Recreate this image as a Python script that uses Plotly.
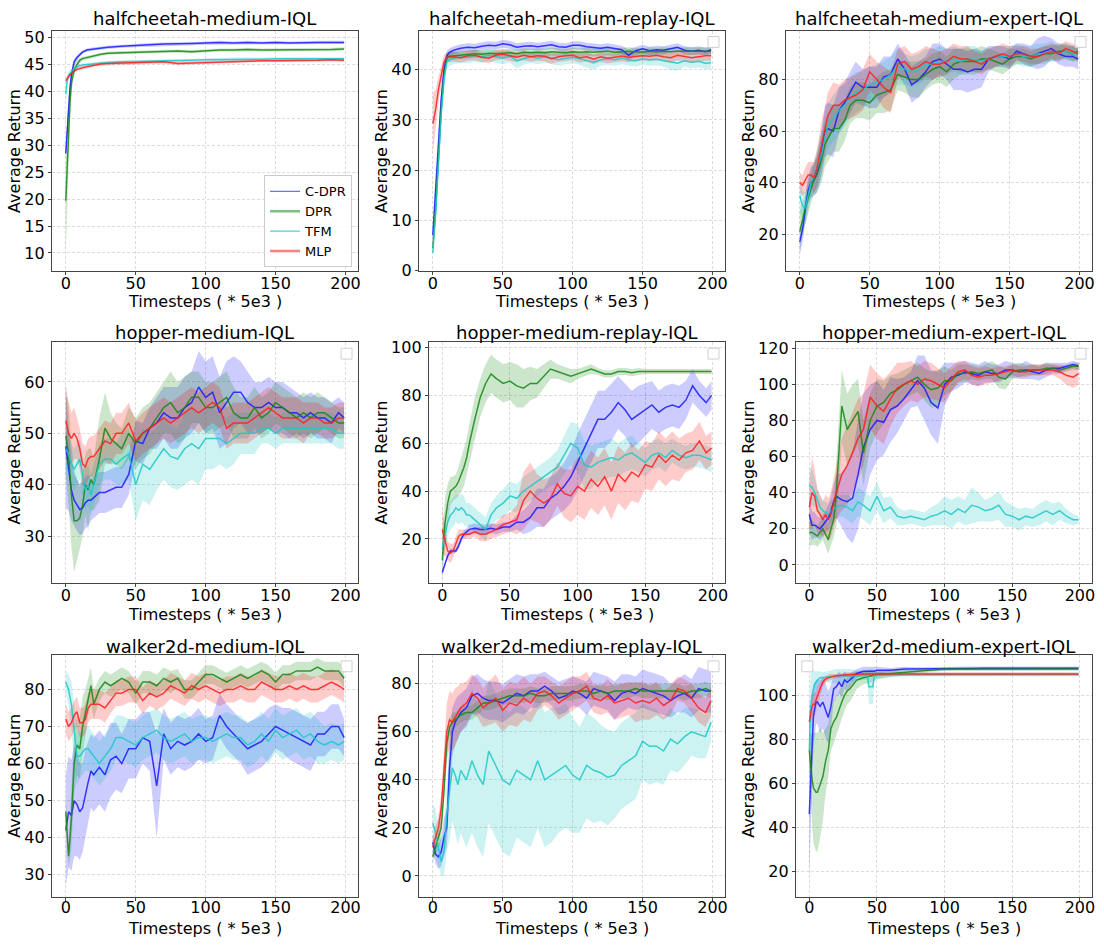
import plotly.graph_objects as go

# ---------------- data ----------------
SERIES = ["C-DPR", "DPR", "TFM", "MLP"]
X_TICKS = [0, 50, 100, 150, 200]

# common step grid for the noisy panels
G = [0, 2, 4, 6, 8, 10, 12, 14, 16, 18, 20,
     24, 28, 32, 36, 40,
     45, 50, 55, 60, 65, 70, 75, 80, 85, 90,
     95, 100, 105, 110, 115, 120, 125, 130, 135, 140,
     145, 150, 155, 160, 165, 170, 175, 180, 185, 190,
     195, 199]

# ---- halfcheetah-medium-IQL ----
HCM_X = [0, 1, 2, 3, 4, 5, 6, 8, 10, 12,
         15, 20, 25, 30, 40, 50, 60, 70, 80, 90,
         100, 110, 120, 130, 140, 150, 160, 170, 180, 190,
         199]
HCM_CDPR = [28.5, 33, 37, 40.5, 43, 44.5, 45.5, 46.3, 46.9, 47.3,
            47.7, 47.9, 48.1, 48.2, 48.4, 48.6, 48.7, 48.8, 48.8, 48.9,
            49.0, 49.1, 49.0, 49.1, 49.0, 49.1, 49.0, 49.1, 49.1, 49.1,
            49.1]
HCM_CDPR_W = [1, 1.5, 1.5, 1.2, 1, 0.8, 0.6, 0.5, 0.4, 0.3,
              0.3, 0.3, 0.3, 0.3, 0.3, 0.3, 0.3, 0.3, 0.3, 0.3,
              0.3, 0.3, 0.3, 0.3, 0.3, 0.3, 0.3, 0.3, 0.3, 0.3,
              0.3]
HCM_DPR = [19.7, 27, 33, 38, 41.5, 43, 44, 45, 45.8, 46.1,
           46.3, 46.6, 46.9, 47.1, 47.2, 47.3, 47.4, 47.5, 47.5, 47.4,
           47.6, 47.7, 47.7, 47.8, 47.7, 47.7, 47.8, 47.8, 47.8, 47.8,
           47.9]
HCM_DPR_W = [10, 8, 6, 4, 2.5, 1.5, 1, 0.7, 0.5, 0.4,
             0.3, 0.3, 0.3, 0.3, 0.3, 0.3, 0.3, 0.3, 0.3, 0.3,
             0.3, 0.3, 0.3, 0.3, 0.3, 0.3, 0.3, 0.3, 0.3, 0.3,
             0.3]
HCM_TFM = [39.5, 42, 43, 43.4, 43.8, 44, 44.3, 44.6, 44.8, 44.9,
           45.0, 45.2, 45.3, 45.4, 45.5, 45.5, 45.6, 45.7, 45.7, 45.8,
           45.9, 45.9, 46.0, 46.0, 46.0, 46.1, 46.1, 46.1, 46.1, 46.1,
           46.1]
HCM_TFM_W = [1.5, 1, 0.8, 0.6, 0.5, 0.4, 0.3, 0.3, 0.3, 0.3,
             0.3, 0.3, 0.3, 0.3, 0.3, 0.3, 0.3, 0.3, 0.3, 0.3,
             0.3, 0.3, 0.3, 0.3, 0.3, 0.3, 0.3, 0.3, 0.3, 0.3,
             0.3]
HCM_MLP = [42, 42.4, 42.8, 43.1, 43.3, 43.6, 43.8, 44.1, 44.3, 44.4,
           44.6, 44.9, 45.1, 45.2, 45.3, 45.3, 45.4, 45.5, 45.2, 45.3,
           45.4, 45.5, 45.6, 45.7, 45.7, 45.7, 45.7, 45.8, 45.8, 45.9,
           45.8]
HCM_MLP_W = [0.5, 0.4, 0.4, 0.3, 0.3, 0.3, 0.3, 0.3, 0.3, 0.3,
             0.3, 0.3, 0.3, 0.3, 0.3, 0.3, 0.3, 0.3, 0.3, 0.3,
             0.3, 0.3, 0.3, 0.3, 0.3, 0.3, 0.3, 0.3, 0.3, 0.3,
             0.3]

# ---- halfcheetah-medium-replay-IQL ----
HCMR_X = [0, 2, 4, 6, 8, 10, 12, 15, 20, 25,
          30, 35, 40, 45, 50, 55, 60, 65, 70, 75,
          80, 85, 90, 95, 100, 105, 110, 115, 120, 125,
          130, 135, 140, 145, 150, 155, 160, 165, 170, 175,
          180, 185, 190, 195, 199]
HCMR_CDPR = [7, 15, 25, 34, 40, 42.8, 43.5, 43.9, 44.3, 44.5,
             44.4, 44.7, 44.9, 44.8, 45.2, 45.0, 44.5, 44.7, 44.8, 44.6,
             44.8, 45.0, 44.6, 44.5, 44.9, 44.9, 44.6, 44.4, 44.3, 44.5,
             44.2, 44.0, 42.9, 43.8, 44.2, 43.8, 44.0, 43.9, 44.2, 44.5,
             43.9, 43.7, 43.9, 43.6, 44.0]
HCMR_CDPR_W = [1, 1.5, 2, 2, 1.5, 1, 0.8, 0.8, 0.8, 0.8,
               0.8, 0.8, 0.8, 0.8, 0.8, 0.8, 0.8, 0.8, 0.8, 0.8,
               0.8, 0.8, 0.8, 0.8, 0.8, 0.8, 0.8, 0.8, 0.8, 0.8,
               0.8, 0.8, 1.2, 0.8, 0.8, 0.8, 0.8, 0.8, 0.8, 0.8,
               0.8, 0.8, 0.8, 0.8, 0.8]
HCMR_DPR = [4.5, 12, 22, 32, 39, 42.3, 42.7, 42.8, 43.0, 43.1,
            43.2, 43.1, 43.3, 43.2, 43.3, 43.4, 43.2, 43.5, 43.4, 43.5,
            43.4, 43.6, 43.5, 43.4, 43.6, 43.5, 43.6, 43.5, 43.6, 43.7,
            43.5, 43.6, 43.7, 43.6, 43.5, 43.7, 43.6, 43.7, 43.6, 43.7,
            43.7, 43.6, 43.7, 43.7, 43.7]
HCMR_DPR_W = [1, 1.5, 2, 2, 1.5, 1, 0.8, 0.8, 0.8, 0.8,
              0.8, 0.8, 0.8, 0.8, 0.8, 0.8, 0.8, 0.8, 0.8, 0.8,
              0.8, 0.8, 0.8, 0.8, 0.8, 0.8, 0.8, 0.8, 0.8, 0.8,
              0.8, 0.8, 0.8, 0.8, 0.8, 0.8, 0.8, 0.8, 0.8, 0.8,
              0.8, 0.8, 0.8, 0.8, 0.8]
HCMR_TFM = [3.5, 11, 21, 31, 38, 41.5, 42, 42.3, 42.6, 42.5,
            42.8, 42.6, 42.9, 42.6, 42.3, 42.7, 41.8, 42.2, 42.6, 42.3,
            42.6, 42.3, 42.0, 42.3, 42.5, 42.2, 41.9, 41.5, 42.0, 42.2,
            42.0, 42.3, 42.0, 41.8, 42.2, 42.0, 42.1, 41.8, 41.5, 41.3,
            41.8, 41.5, 41.7, 41.3, 41.4]
HCMR_TFM_W = [1.5, 2, 2, 2, 2, 1.5, 1.2, 1.2, 1.2, 1.2,
              1.2, 1.2, 1.2, 1.2, 1.2, 1.2, 1.5, 1.2, 1.2, 1.2,
              1.2, 1.2, 1.2, 1.2, 1.2, 1.2, 1.5, 1.5, 1.2, 1.2,
              1.2, 1.2, 1.2, 1.2, 1.2, 1.2, 1.2, 1.2, 1.5, 1.5,
              1.2, 1.2, 1.2, 1.2, 1.2]
HCMR_MLP = [29.3, 32, 36, 39, 41.5, 42.5, 42.6, 42.6, 42.4, 42.8,
            42.9, 42.5, 42.3, 42.9, 43.1, 42.8, 42.5, 42.9, 42.6, 42.8,
            42.7, 42.2, 42.6, 42.8, 42.9, 42.4, 42.6, 42.1, 42.6, 42.3,
            42.5, 42.7, 42.5, 42.7, 42.8, 42.7, 42.9, 42.6, 42.4, 42.9,
            42.7, 42.4, 42.6, 42.8, 42.8]
HCMR_MLP_W = [6, 4, 2.5, 2, 1.5, 1, 1, 1, 1, 1,
              1, 1, 1, 1, 1, 1, 1, 1, 1, 1,
              1, 1, 1, 1, 1, 1, 1, 1, 1, 1,
              1, 1, 1, 1, 1, 1, 1, 1, 1, 1,
              1, 1, 1, 1, 1]

# ---- halfcheetah-medium-expert-IQL (grid G) ----
HCME_CDPR = [17, 22, 30, 37, 40, 41, 43, 47, 53, 60, 61,
             60, 68, 71, 75, 79,
             77, 77, 77, 81, 82, 88, 84, 78, 80, 83,
             87, 88, 86, 84, 84, 83, 84, 84, 88, 89,
             89, 88, 91, 90, 89, 90, 91, 92, 90, 89,
             89, 88]
HCME_CDPR_W = [5, 5, 5, 5, 6, 6, 7, 8, 9, 10, 10,
               10, 9, 8, 8, 8,
               7, 8, 8, 8, 7, 6, 6, 7, 7, 6,
               7, 6, 6, 8, 8, 8, 8, 7, 5, 4,
               4, 4, 3, 4, 4, 6, 6, 4, 4, 4,
               4, 4]
HCME_DPR = [21, 26, 30, 34, 38, 41, 43, 46, 50, 55, 57,
            61, 61, 64, 70, 72,
            72, 71, 74, 75, 76, 82, 81, 80, 80, 82,
            84, 85, 83, 86, 87, 87, 87, 88, 88, 87,
            86, 88, 89, 89, 88, 89, 90, 90, 91, 91,
            90, 91]
HCME_DPR_W = [8, 6, 6, 6, 6, 6, 7, 8, 9, 9, 9,
              9, 9, 8, 7, 7,
              7, 7, 7, 8, 8, 6, 6, 7, 7, 6,
              6, 6, 6, 6, 5, 5, 5, 5, 4, 4,
              4, 4, 3, 3, 3, 3, 3, 3, 3, 3,
              3, 3]
HCME_TFM = [35, 31, 30, 35, 40, 42, 45, 48, 52, 58, 62,
            65, 68, 70, 73, 75,
            76, 78, 79, 80, 82, 85, 84, 83, 84, 86,
            86, 87, 87, 88, 87, 88, 88, 87, 88, 89,
            89, 89, 90, 89, 89, 90, 90, 91, 90, 91,
            90, 90]
HCME_TFM_W = [6, 6, 6, 6, 6, 6, 7, 8, 9, 9, 9,
              9, 9, 8, 8, 8,
              7, 7, 7, 7, 7, 7, 6, 6, 6, 6,
              6, 6, 5, 5, 5, 5, 5, 4, 4, 4,
              4, 4, 4, 4, 4, 4, 4, 4, 3, 3,
              3, 3]
HCME_MLP = [40, 39, 41, 43, 43, 42, 45, 50, 56, 60, 66,
            70, 70, 72, 73, 74,
            76, 83, 80, 77, 75, 86, 87, 84, 85, 87,
            86, 86, 87, 89, 88, 88, 87, 86, 88, 89,
            90, 89, 90, 90, 89, 89, 90, 91, 90, 92,
            91, 90]
HCME_MLP_W = [4, 4, 5, 5, 5, 6, 7, 8, 9, 9, 9,
              9, 8, 8, 8, 8,
              8, 7, 7, 8, 8, 6, 6, 6, 6, 6,
              6, 5, 5, 5, 5, 5, 4, 4, 4, 4,
              4, 4, 3, 3, 3, 3, 3, 3, 3, 3,
              3, 3]

# ---- hopper-medium-IQL (grid G) ----
HM_CDPR = [47.5, 43, 39, 37, 36, 35.2, 35.5, 36.5, 37, 37, 37.5,
           38.5, 38.5, 39, 39.5, 39.5,
           42, 48.5, 48, 51, 52, 54, 53, 53, 55, 56,
           59, 57, 58, 54, 56, 58, 58, 56, 55, 55,
           56, 55, 55, 54, 54, 53, 54, 53, 53, 52,
           54, 53]
HM_CDPR_W = [12, 8, 6, 5, 5, 5, 5, 5, 5, 4, 4,
             4, 4, 4, 4, 4,
             4, 4, 4, 4, 5, 5, 6, 6, 6, 6,
             7, 7, 7, 7, 8, 7, 6, 6, 5, 5,
             5, 5, 5, 5, 4, 4, 4, 4, 4, 4,
             3, 3]
HM_DPR = [49.5, 46, 38, 33, 33, 33.5, 36, 40, 39, 41, 40,
          45, 51, 49, 48, 47,
          50, 48, 50, 51, 53, 55, 56, 54, 55, 57,
          57, 55, 55, 56, 57, 54, 53, 53, 55, 53,
          54, 56, 55, 54, 53, 54, 53, 54, 54, 53,
          52, 52]
HM_DPR_W = [8, 10, 10, 10, 8, 6, 6, 6, 8, 6, 5,
            8, 7, 5, 4, 4,
            5, 5, 5, 5, 5, 5, 6, 6, 6, 5,
            5, 5, 5, 5, 5, 5, 4, 4, 4, 4,
            4, 4, 4, 4, 4, 4, 4, 4, 3, 3,
            3, 3]
HM_TFM = [47, 46, 44, 43, 44, 45, 42, 39, 40, 38, 40,
          44, 45, 45, 44, 45,
          46, 40, 44, 43, 45, 47, 45.5, 45, 47, 48,
          47, 49, 49, 49, 48, 49, 50, 50, 50, 51,
          51, 50, 51, 51, 51, 51, 51, 51, 51, 51,
          50, 50]
HM_TFM_W = [4, 4, 4, 4, 4, 4, 4, 4, 4, 4, 4,
            4, 4, 4, 4, 5,
            5, 7, 7, 7, 6, 6, 6, 6, 7, 7,
            7, 6, 6, 5, 5, 5, 4, 4, 4, 3,
            3, 3, 3, 3, 3, 3, 3, 3, 3, 3,
            3, 3]
HM_MLP = [52.5, 50, 49, 50, 49, 47, 44, 43.5, 45, 45.5, 45.5,
          47, 48.5, 48, 50, 50,
          52, 48.5, 50, 51, 52, 53, 52, 53, 54, 55,
          54, 55, 56, 55, 51, 52, 52, 52, 53, 54,
          55, 54, 53, 53, 53, 52, 53, 53, 52, 52,
          53, 53]
HM_MLP_W = [7, 6, 5, 5, 4, 4, 4, 4, 4, 4, 4,
            4, 4, 4, 4, 4,
            4, 4, 4, 4, 4, 4, 4, 4, 4, 4,
            4, 4, 4, 4, 4, 4, 4, 4, 4, 4,
            4, 4, 4, 4, 4, 4, 3, 3, 3, 3,
            3, 3]

# ---- hopper-medium-replay-IQL (grid G) ----
HMR_CDPR = [6, 10, 13, 15, 15, 15, 17, 20, 22, 23, 24,
            24.5, 24, 24, 24.5, 24,
            25, 25, 27, 27, 29, 33, 33, 37, 39, 42,
            46, 52, 58, 64, 70, 70, 73, 77, 74, 70,
            72, 74, 76, 73, 75, 76, 75, 78, 84, 80,
            77, 80]
HMR_CDPR_W = [1, 1, 1, 1, 1, 1, 1.5, 1.5, 1.5, 1.5, 2,
              2, 2, 2, 2, 2,
              2, 2, 3, 5, 6, 8, 8, 9, 9, 10,
              11, 12, 12, 12, 12, 12, 12, 11, 11, 12,
              12, 11, 10, 9, 9, 9, 9, 8, 7, 6,
              6, 6]
HMR_DPR = [11, 27, 35, 40, 41, 42, 44, 47, 50, 54, 60,
           70, 79, 85, 89, 87,
           85, 86, 84, 83, 85, 85, 88, 91, 90, 89,
           88, 89, 90, 91, 90, 89, 89, 90, 90, 89.5,
           90, 90, 90, 90, 90, 90, 90, 90, 90, 90,
           90, 90]
HMR_DPR_W = [10, 10, 8, 6, 5, 5, 6, 7, 8, 8, 8,
             9, 8, 8, 8, 8,
             8, 8, 9, 8, 7, 6, 5, 4, 3, 3,
             3, 2, 2, 2, 1.5, 1.5, 1.5, 1.5, 1.5, 1.5,
             1.5, 1, 1, 1, 1, 1, 1, 1, 1, 1,
             1, 1]
HMR_TFM = [16, 22, 27, 30, 31, 33, 32, 33, 32, 30, 30,
           28, 26, 24, 30, 33,
           35, 38, 37, 40, 42, 44, 46, 48, 50, 55,
           60, 58, 51, 50, 52, 53, 54, 53, 55, 56,
           54, 52, 55, 56, 54, 57, 55, 54, 55, 55,
           54, 53]
HMR_TFM_W = [6, 6, 6, 6, 6, 6, 6, 6, 6, 5, 5,
             5, 5, 5, 5, 5,
             6, 6, 6, 6, 6, 6, 6, 6, 7, 8,
             9, 10, 10, 9, 8, 8, 8, 7, 7, 7,
             6, 6, 6, 6, 6, 5, 5, 5, 5, 5,
             5, 5]
HMR_MLP = [24, 19, 15, 14, 15, 18, 21, 22, 22, 22, 22,
           23, 22, 22, 23, 24,
           26, 27, 28, 36, 40, 37, 35, 37, 43, 39,
           38, 42, 40, 45, 42, 46, 40, 47, 44, 48,
           46, 51, 50, 55, 52, 55, 53, 56, 57, 61,
           56, 58]
HMR_MLP_W = [10, 6, 4, 4, 3, 3, 3, 2, 2, 2, 2,
             2, 3, 3, 3, 3,
             4, 4, 6, 12, 12, 10, 10, 9, 9, 10,
             11, 12, 12, 12, 12, 12, 12, 12, 12, 12,
             11, 10, 10, 10, 10, 10, 9, 8, 8, 8,
             7, 7]

# ---- hopper-medium-expert-IQL (grid G) ----
HME_CDPR = [28, 22, 22, 21, 20, 22, 24, 26, 30, 35, 38,
            36, 35, 37, 50, 65,
            75, 80, 79, 86, 88, 92, 97, 102, 98, 90,
            87, 100, 104, 105, 107, 106, 105, 107, 106, 106,
            108, 108, 107, 108, 107, 106, 108, 109, 109, 110,
            111, 110]
HME_CDPR_W = [10, 8, 7, 6, 6, 6, 6, 7, 8, 10, 12,
              15, 20, 25, 30, 30,
              25, 22, 18, 18, 15, 12, 10, 14, 18, 18,
              20, 12, 8, 7, 6, 6, 6, 6, 5, 5,
              5, 4, 4, 5, 4, 4, 4, 3, 3, 2,
              2, 2]
HME_DPR = [18, 18, 17, 16, 18, 20, 17, 14, 20, 25, 40,
           88, 75, 80, 85, 62,
           80, 88, 90, 95, 97, 100, 102, 104, 100, 97,
           98, 102, 102, 106, 106, 107, 106, 107, 108, 104,
           103, 107, 108, 108, 108, 108, 109, 109, 108, 109,
           110, 110]
HME_DPR_W = [8, 7, 6, 6, 6, 6, 7, 8, 9, 10, 18,
             20, 20, 20, 18, 18,
             15, 15, 12, 10, 9, 8, 8, 8, 9, 10,
             10, 8, 6, 5, 5, 4, 4, 4, 5, 6,
             6, 4, 4, 3, 3, 3, 3, 2, 2, 2,
             2, 2]
HME_TFM = [44, 43, 40, 36, 32, 30, 29, 28, 30, 31, 32,
           33, 32, 30, 35, 33,
           30, 38, 30, 32, 27, 26, 27, 26, 25, 27,
           28, 30, 28, 31, 29, 33, 32, 30, 31, 33,
           28, 27, 25, 27, 26, 28, 30, 28, 30, 27,
           25, 25]
HME_TFM_W = [10, 10, 8, 6, 6, 6, 6, 6, 6, 6, 6,
             6, 7, 7, 8, 8,
             8, 8, 7, 6, 5, 4, 4, 4, 4, 5,
             6, 8, 8, 7, 7, 10, 8, 6, 7, 8,
             7, 6, 6, 5, 5, 6, 6, 6, 5, 4,
             3, 2]
HME_MLP = [32, 40, 38, 30, 28, 25, 28, 25, 28, 35, 40,
           50, 55, 62, 70, 75,
           93, 88, 85, 92, 98, 100, 102, 100, 103, 102,
           100, 98, 103, 107, 108, 105, 104, 105, 105, 106,
           107, 108, 107, 107, 108, 108, 108, 108, 107, 105,
           104, 106]
HME_MLP_W = [12, 20, 15, 12, 11, 10, 11, 12, 13, 14, 15,
             20, 22, 22, 22, 20,
             18, 18, 18, 15, 14, 12, 11, 10, 10, 10,
             9, 8, 7, 6, 5, 5, 5, 5, 4, 4,
             3, 3, 3, 3, 3, 3, 3, 3, 4, 5,
             6, 6]

# ---- walker2d-medium-IQL (grid G) ----
WM_CDPR = [42, 47, 46, 50, 49, 47, 48, 52, 55, 58, 57,
           59, 57, 61, 62, 60,
           64, 64, 67, 66, 54, 68, 64, 66, 65, 66,
           68, 66, 67, 73, 70, 68, 66, 64, 65, 66,
           68, 70, 69, 68, 67, 66, 65, 68, 68, 70,
           70, 67]
WM_CDPR_W = [15, 15, 15, 15, 14, 13, 12, 12, 11, 10, 10,
             10, 10, 10, 9, 8,
             8, 8, 7, 8, 14, 7, 7, 7, 7, 7,
             7, 6, 6, 6, 6, 6, 6, 7, 7, 7,
             7, 6, 6, 7, 7, 7, 7, 6, 6, 6,
             6, 5]
WM_DPR = [47, 35, 45, 60, 65, 64, 70, 74, 78, 81, 76,
          80, 82, 81, 82, 83,
          82, 79, 82, 82, 81, 83, 82, 83, 80, 80,
          82, 84, 84, 83, 82, 83, 84, 83, 84, 85,
          84, 82, 84, 84, 85, 85, 85, 86, 85, 85,
          85, 83]
WM_DPR_W = [4, 3, 8, 8, 8, 8, 8, 6, 5, 5, 4,
            3, 3, 3, 3, 3,
            3, 3, 3, 3, 3, 3, 3, 2.5, 2.5, 2.5,
            2.5, 2.5, 2.5, 2.5, 2.5, 2.5, 2.5, 2.5, 2.5, 2.5,
            2.5, 2.5, 2.5, 2.5, 2.5, 2.5, 2.5, 2.5, 2.5, 2.5,
            2.5, 2.5]
WM_TFM = [82, 80, 76, 68, 62, 62, 63, 64, 64, 63, 62,
          60, 62, 64, 67, 67,
          66, 65, 67, 68, 69, 67, 66, 67, 68, 66,
          67, 67, 66, 67, 68, 67, 67, 65, 66, 68,
          66, 69, 67, 68, 69, 67, 68, 66, 65, 66,
          65, 66]
WM_TFM_W = [3, 4, 6, 8, 8, 6, 6, 6, 6, 6, 6,
            6, 6, 6, 6, 6,
            6, 6, 6, 6, 6, 6, 6, 6, 6, 6,
            6, 6, 6, 6, 6, 6, 6, 6, 6, 6,
            6, 6, 6, 6, 6, 6, 6, 6, 5, 5,
            5, 5]
WM_MLP = [72, 70, 71, 73, 74, 71, 71, 72, 75, 76, 76,
          76, 75, 77, 79, 79,
          80, 80, 77, 79, 78, 79, 81, 80, 79, 81,
          80, 81, 80, 79, 80, 80, 81, 80, 80, 82,
          81, 80, 80, 81, 80, 81, 80, 80, 81, 82,
          81, 80]
WM_MLP_W = [4, 4, 4, 4, 4, 4, 4, 4, 4, 4, 4,
            4, 4, 3.5, 3.5, 3.5,
            3.5, 3.5, 3.5, 3.5, 3.5, 3.5, 3.5, 3.5, 3.5, 3.5,
            3.5, 3.5, 3.5, 3.5, 3.5, 3.5, 3.5, 3.5, 3.5, 3.5,
            3.5, 3.5, 3.5, 3.5, 3.5, 3.5, 3.5, 3.5, 3.5, 3.5,
            3.5, 3.5]

# ---- walker2d-medium-replay-IQL (grid G) ----
WMR_CDPR = [14, 9, 8, 10, 16, 20, 45, 60, 64, 66, 68,
            70, 75, 76, 74, 73,
            73, 72, 74, 76, 75, 77, 77, 79, 77, 74,
            75, 77, 76, 74, 78, 77, 76, 73, 76, 77,
            76, 78, 77, 76, 75, 73, 75, 76, 74, 78,
            77, 77]
WMR_CDPR_W = [3, 4, 5, 6, 8, 8, 12, 10, 9, 9, 8,
              8, 8, 8, 8, 8,
              8, 8, 8, 8, 8, 7, 7, 6, 6, 7,
              7, 6, 6, 7, 7, 7, 7, 8, 8, 7,
              7, 8, 8, 8, 8, 7, 7, 8, 8, 9,
              9, 9]
WMR_DPR = [8, 12, 15, 20, 35, 55, 62, 64, 65, 66, 67,
           68, 68, 70, 72, 72,
           73, 74, 75, 75, 75, 76, 75, 75, 76, 76,
           76, 76, 77, 77, 76, 77, 76, 77, 77, 77,
           78, 77, 77, 77, 77, 77, 77, 76, 77, 77,
           78, 77]
WMR_DPR_W = [3, 3, 4, 5, 5, 5, 4, 4, 3, 3, 3,
             3, 3, 3, 3, 3,
             3, 3, 3, 3, 3, 3, 3, 3, 3, 3,
             3, 3, 3, 3, 3, 3, 3, 3, 3, 3,
             3, 3, 3, 3, 3, 3, 3, 3, 3, 3,
             3, 3]
WMR_TFM = [22, 18, 12, 6, 10, 25, 35, 45, 42, 38, 44,
           40, 48, 42, 38, 52,
           46, 40, 38, 44, 42, 40, 48, 40, 42, 44,
           46, 42, 40, 46, 44, 43, 41, 42, 46, 48,
           50, 56, 54, 54, 52, 57, 55, 58, 60, 59,
           58, 64]
WMR_TFM_W = [8, 10, 8, 6, 10, 15, 20, 22, 24, 25, 26,
             28, 30, 30, 30, 30,
             30, 30, 30, 28, 28, 28, 28, 28, 28, 26,
             26, 24, 22, 22, 22, 20, 20, 18, 18, 18,
             18, 16, 16, 15, 14, 13, 12, 12, 10, 10,
             9, 8]
WMR_MLP = [12, 16, 20, 28, 45, 60, 65, 64, 66, 68, 70,
           72, 76, 74, 70, 72,
           74, 69, 72, 71, 74, 72, 76, 77, 75, 72,
           74, 76, 77, 79, 74, 73, 75, 72, 73, 74,
           72, 73, 72, 74, 71, 73, 78, 77, 74, 70,
           68, 73]
WMR_MLP_W = [4, 4, 5, 6, 10, 12, 12, 12, 12, 11, 10,
             9, 8, 8, 8, 9,
             10, 9, 9, 9, 9, 8, 7, 6, 6, 7,
             7, 7, 6, 6, 6, 6, 7, 7, 7, 7,
             8, 8, 7, 7, 6, 6, 5, 5, 6, 6,
             6, 6]

# ---- walker2d-medium-expert-IQL ----
WME_X = [0, 1, 2, 3, 4, 5, 6, 8, 10, 12,
         14, 16, 18, 20, 22, 24, 26, 28, 30, 35,
         40, 43, 44, 47, 48, 50, 60, 70, 80, 90,
         100, 110, 120, 130, 140, 150, 160, 170, 180, 190,
         199]
WME_CDPR = [46, 60, 80, 90, 94, 97, 97, 95, 97, 93,
            90, 95, 103, 104, 106, 104, 107, 106, 107, 110,
            111, 111, 111, 111, 111, 111.5, 111.5, 112, 112, 112,
            112, 112.2, 112.3, 112.4, 112.4, 112.4, 112.4, 112.4, 112.4, 112.4,
            112.4]
WME_CDPR_W = [30, 25, 20, 15, 12, 10, 10, 12, 12, 12,
              12, 10, 6, 5, 5, 5, 4, 4, 3, 2,
              2, 2, 2, 2, 2, 1.5, 1, 1, 0.8, 0.8,
              0.8, 0.8, 0.8, 0.8, 0.8, 0.8, 0.8, 0.8, 0.8, 0.8,
              0.8]
WME_DPR = [75, 68, 62, 58, 57, 56, 56, 60, 63, 70,
           75, 85, 88, 90, 94, 97, 100, 102, 103, 107,
           108, 108.5, 108.5, 109, 109, 109.5, 110, 110.5, 111, 111.5,
           112, 112, 112, 112, 112, 112, 112, 112, 112, 112,
           112]
WME_DPR_W = [8, 15, 20, 25, 26, 27, 27, 25, 20, 15,
             12, 10, 10, 9, 8, 8, 7, 6, 6, 4,
             3, 3, 3, 2.5, 2.5, 2, 1.5, 1, 0.8, 0.8,
             0.8, 0.8, 0.8, 0.8, 0.8, 0.8, 0.8, 0.8, 0.8, 0.8,
             0.8]
WME_TFM = [75, 95, 100, 103, 105, 106, 107, 108, 108, 108.3,
           108.5, 108.5, 108.7, 109, 109, 109, 109, 109, 109, 109,
           109, 109, 104, 104, 109, 109, 109.3, 109.4, 109.5, 109.5,
           109.5, 109.5, 109.5, 109.5, 109.5, 109.5, 109.5, 109.5, 109.5, 109.5,
           109.5]
WME_TFM_W = [20, 15, 12, 9, 6, 5, 4, 3, 2.5, 2.5,
             2.5, 3, 3, 3, 3, 3, 3, 3, 3, 2.5,
             2, 2, 8, 8, 2, 1.5, 1, 0.8, 0.8, 0.8,
             0.8, 0.8, 0.8, 0.8, 0.8, 0.8, 0.8, 0.8, 0.8, 0.8,
             0.8]
WME_MLP = [88, 92, 95, 96, 96, 98, 100, 103, 106, 107.5,
           108, 108.5, 108.7, 109, 109, 109.2, 109.3, 109.4, 109.5, 109.6,
           109.7, 109.7, 109.7, 109.7, 109.7, 109.7, 109.7, 109.7, 109.7, 109.7,
           109.7, 109.7, 109.7, 109.7, 109.7, 109.7, 109.7, 109.7, 109.7, 109.7,
           109.7]
WME_MLP_W = [4, 5, 5, 5, 5, 4, 4, 3, 2, 1.5,
             1.5, 1.5, 1, 1, 1, 1, 1, 1, 1, 0.8,
             0.8, 0.8, 0.8, 0.8, 0.8, 0.8, 0.8, 0.8, 0.8, 0.8,
             0.8, 0.8, 0.8, 0.8, 0.8, 0.8, 0.8, 0.8, 0.8, 0.8,
             0.8]

TITLES = ["halfcheetah-medium-IQL", "halfcheetah-medium-replay-IQL", "halfcheetah-medium-expert-IQL",
          "hopper-medium-IQL", "hopper-medium-replay-IQL", "hopper-medium-expert-IQL",
          "walker2d-medium-IQL", "walker2d-medium-replay-IQL", "walker2d-medium-expert-IQL"]
Y_TICKS = [[10, 15, 20, 25, 30, 35, 40, 45, 50], [0, 10, 20, 30, 40], [20, 40, 60, 80],
           [30, 40, 50, 60], [20, 40, 60, 80, 100], [0, 20, 40, 60, 80, 100, 120],
           [30, 40, 50, 60, 70, 80], [0, 20, 40, 60, 80], [20, 40, 60, 80, 100]]

PANEL_DATA = [
    (HCM_X, [HCM_CDPR, HCM_DPR, HCM_TFM, HCM_MLP], [HCM_CDPR_W, HCM_DPR_W, HCM_TFM_W, HCM_MLP_W]),
    (HCMR_X, [HCMR_CDPR, HCMR_DPR, HCMR_TFM, HCMR_MLP], [HCMR_CDPR_W, HCMR_DPR_W, HCMR_TFM_W, HCMR_MLP_W]),
    (G, [HCME_CDPR, HCME_DPR, HCME_TFM, HCME_MLP], [HCME_CDPR_W, HCME_DPR_W, HCME_TFM_W, HCME_MLP_W]),
    (G, [HM_CDPR, HM_DPR, HM_TFM, HM_MLP], [HM_CDPR_W, HM_DPR_W, HM_TFM_W, HM_MLP_W]),
    (G, [HMR_CDPR, HMR_DPR, HMR_TFM, HMR_MLP], [HMR_CDPR_W, HMR_DPR_W, HMR_TFM_W, HMR_MLP_W]),
    (G, [HME_CDPR, HME_DPR, HME_TFM, HME_MLP], [HME_CDPR_W, HME_DPR_W, HME_TFM_W, HME_MLP_W]),
    (G, [WM_CDPR, WM_DPR, WM_TFM, WM_MLP], [WM_CDPR_W, WM_DPR_W, WM_TFM_W, WM_MLP_W]),
    (G, [WMR_CDPR, WMR_DPR, WMR_TFM, WMR_MLP], [WMR_CDPR_W, WMR_DPR_W, WMR_TFM_W, WMR_MLP_W]),
    (WME_X, [WME_CDPR, WME_DPR, WME_TFM, WME_MLP], [WME_CDPR_W, WME_DPR_W, WME_TFM_W, WME_MLP_W]),
]

# ---------------- style / layout ----------------
W, H = 1104, 950
FONT = "DejaVu Sans"
LINE_COLORS = ["rgba(25,25,255,0.85)", "rgba(20,135,20,0.85)", "rgba(30,200,200,0.85)", "rgba(255,30,30,0.85)"]
FILL_COLORS = ["rgba(0,0,255,0.2)", "rgba(0,128,0,0.2)", "rgba(0,191,191,0.2)", "rgba(255,0,0,0.2)"]
LEG_COLORS = ["rgba(60,60,255,0.75)", "rgba(0,128,0,0.5)", "rgba(0,191,191,0.7)", "rgba(255,0,0,0.5)"]
LEG_WIDTHS = [1.3, 2.6, 1.3, 2.6]

# plot-area pixel boxes: (left, right, top, bottom)
BOXES = [(52, 359, 27, 271), (420, 727, 27, 271), (788, 1095, 27, 271),
         (52, 359, 343, 587), (430, 727, 343, 587), (798, 1095, 343, 587),
         (52, 359, 660, 905), (420, 727, 660, 905), (798, 1095, 660, 905)]
Y_RANGES = [(6.6, 51.3), (-0.15, 47.8), (5.6, 99.0), (20.9, 67.7), (1.6, 102.2),
            (-10.0, 123.3), (24.1, 89.3), (-8.6, 92.0), (8.5, 118.4)]
TITLE_Y = [15, 15, 15, 333, 333, 333, 651, 651, 651]
XLAB_Y = [302, 302, 302, 619, 619, 619, 937, 937, 937]
XTICK_STANDOFF = [-5, -5, -5, -5, -5, -5, -7, -7, -7]
YLAB_X = [15, 383, 751] * 3

fig = go.Figure()
annotations = []
shapes = []

for i, (xs, means, widths) in enumerate(PANEL_DATA):
    n = i + 1
    xa, ya = ("x" if n == 1 else f"x{n}"), ("y" if n == 1 else f"y{n}")
    # bands
    for s in range(4):
        m, w = means[s], widths[s]
        up = [a + b for a, b in zip(m, w)]
        lo = [a - b for a, b in zip(m, w)]
        fig.add_trace(go.Scatter(x=list(xs) + list(xs)[::-1], y=up + lo[::-1], fill="toself",
                                 fillcolor=FILL_COLORS[s], line=dict(width=0), mode="lines",
                                 hoverinfo="skip", showlegend=False, xaxis=xa, yaxis=ya))
    # mean lines
    for s in range(4):
        fig.add_trace(go.Scatter(x=xs, y=means[s], mode="lines", name=SERIES[s],
                                 line=dict(color=LINE_COLORS[s], width=1.5),
                                 showlegend=False, xaxis=xa, yaxis=ya))
    l, r, t, b = BOXES[i]
    axis_common = dict(showline=True, mirror=True, linecolor="#444", linewidth=1,
                       showgrid=True, gridcolor="#dcdcdc", gridwidth=0.8, griddash="3px,2px",
                       zeroline=False, ticks="outside", ticklen=3, tickcolor="#444",
                       tickfont=dict(family=FONT, size=16, color="black"))
    fig.update_layout(**{
        f"xaxis{'' if n == 1 else n}": dict(domain=[l / W, r / W], range=[-9.95, 208.95],
                                              anchor=ya, tickvals=X_TICKS,
                                              ticklabelstandoff=XTICK_STANDOFF[i], **axis_common),
        f"yaxis{'' if n == 1 else n}": dict(domain=[1 - b / H, 1 - t / H], range=list(Y_RANGES[i]),
                                              anchor=xa, tickvals=Y_TICKS[i], **axis_common),
    })
    cx = (l + r) / 2
    annotations.append(dict(text=TITLES[i], x=cx / W, y=1 - TITLE_Y[i] / H, xref="paper", yref="paper",
                            showarrow=False, xanchor="center", yanchor="middle",
                            font=dict(family=FONT, size=18, color="black")))
    annotations.append(dict(text="Timesteps ( * 5e3 )", x=cx / W, y=1 - XLAB_Y[i] / H, xref="paper",
                            yref="paper", showarrow=False, xanchor="center", yanchor="middle",
                            font=dict(family=FONT, size=16, color="black")))
    annotations.append(dict(text="Average Return", x=YLAB_X[i] / W, y=1 - ((t + b) / 2) / H,
                            xref="paper", yref="paper", showarrow=False, textangle=-90,
                            xanchor="center", yanchor="middle",
                            font=dict(family=FONT, size=16, color="black")))
    # empty legend frames (panels 2-9)
    if n >= 2:
        if n == 9:
            bx0, bx1 = l + 6, l + 17
        else:
            bx0, bx1 = r - 17, r - 6
        by0, by1 = t + 6, t + 17
        shapes.append(dict(type="rect", xref="paper", yref="paper",
                           x0=bx0 / W, x1=bx1 / W, y0=1 - by1 / H, y1=1 - by0 / H,
                           line=dict(color="#d0d0d0", width=1), fillcolor="rgba(255,255,255,0.8)"))

# legend entries (panel 1)
for s in range(4):
    fig.add_trace(go.Scatter(x=[None], y=[None], mode="lines", name=SERIES[s],
                             line=dict(color=LEG_COLORS[s], width=LEG_WIDTHS[s]),
                             showlegend=True, xaxis="x", yaxis="y"))

fig.update_layout(
    width=W, height=H, margin=dict(l=0, r=0, t=0, b=0),
    paper_bgcolor="white", plot_bgcolor="white",
    font=dict(family=FONT, color="black"),
    annotations=annotations, shapes=shapes,
    legend=dict(x=353 / W, y=1 - 267 / H, xanchor="right", yanchor="bottom",
                bgcolor="rgba(255,255,255,0.85)", bordercolor="#cccccc", borderwidth=1,
                font=dict(family=FONT, size=13, color="black"), itemwidth=30,
                tracegroupgap=0),
)

fig.write_html("out.html", config={"displayModeBar": False},
               post_script="var h=document.documentElement,b=document.body;"
                           "h.style.margin='0px';h.style.padding='0px';h.style.overflow='hidden';"
                           "b.style.margin='0px';b.style.padding='0px';b.style.overflow='hidden';"
                           "b.style.height='950px';h.style.height='950px';")
